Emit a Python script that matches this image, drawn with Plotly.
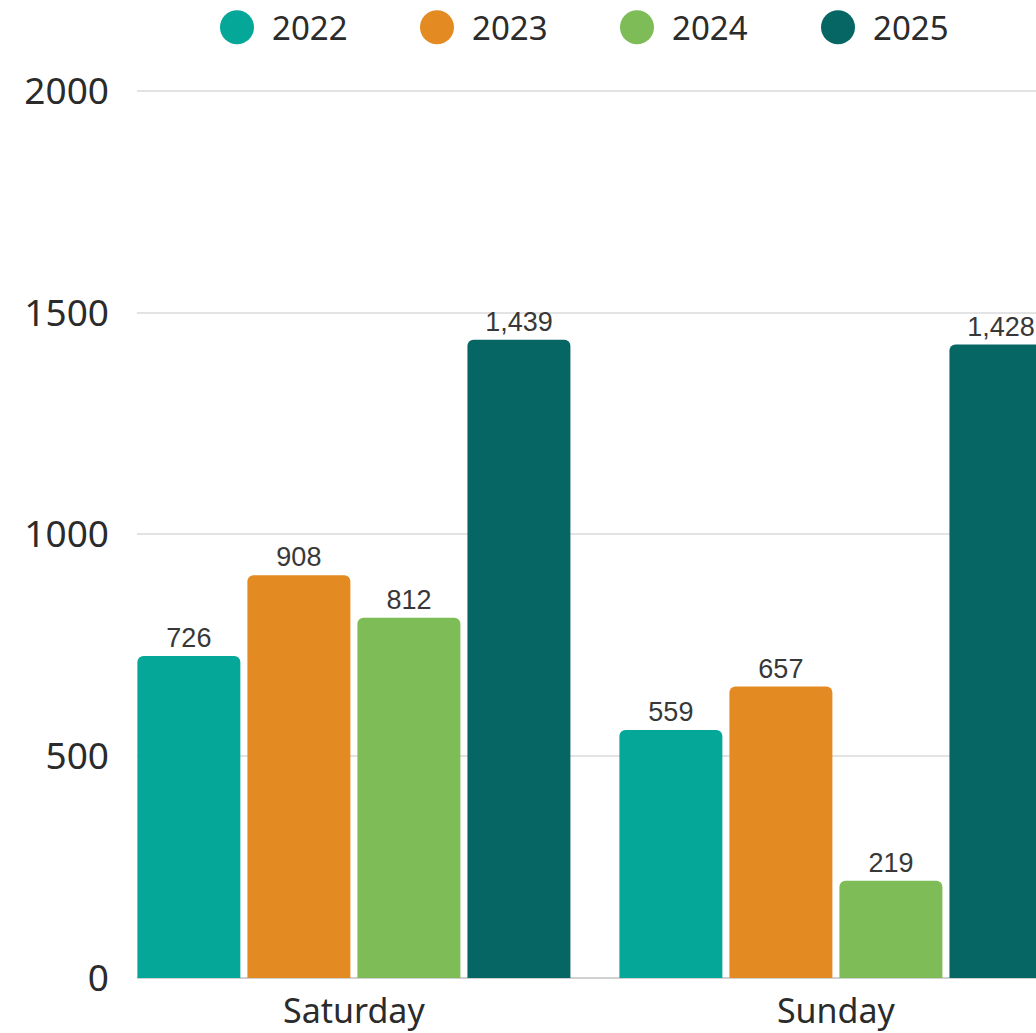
import plotly.graph_objects as go

days = ["Saturday", "Sunday"]
years = ["2022", "2023", "2024", "2025"]
values_2022 = [726, 559]
values_2023 = [908, 657]
values_2024 = [812, 219]
values_2025 = [1439, 1428]
series = [values_2022, values_2023, values_2024, values_2025]
colors = ["#05A898", "#E48A22", "#7DBC56", "#056664"]
y_ticks = [0, 500, 1000, 1500, 2000]

W, H = 1036, 1033
ML, MR, MT, MB = 137, 0, 86, 52
pw, ph = W - ML - MR, H - MT - MB

fig = go.Figure()
for yr, vals, col in zip(years, series, colors):
    fig.add_trace(go.Bar(
        x=days, y=vals, name=yr,
        marker=dict(color=col, cornerradius=6, line=dict(width=0)),
        text=[f"{v:,}" for v in vals], textposition="outside",
        textfont=dict(family="Liberation Sans, Arial", size=27, color="#383838"),
        cliponaxis=False, showlegend=False,
    ))

# custom legend with large circles
legend_px = [237, 437, 637, 838]
legend_y = 27
shapes = []
annotations = []
for yr, col, cx in zip(years, colors, legend_px):
    xp = (cx - ML) / pw
    yp = (H - MB - legend_y) / ph
    shapes.append(dict(type="circle", xref="paper", yref="paper",
                       xsizemode="pixel", ysizemode="pixel",
                       xanchor=xp, yanchor=yp, x0=-17, x1=17, y0=-17, y1=17,
                       fillcolor=col, line=dict(width=0)))
    annotations.append(dict(text=yr, xref="paper", yref="paper",
                            x=(cx + 33 - ML) / pw, y=yp, xanchor="left", yanchor="middle",
                            showarrow=False,
                            font=dict(family="Noto Sans", size=33, color="#2b2b2b")))

fig.update_layout(
    width=W, height=H,
    margin=dict(l=ML, r=MR, t=MT, b=MB),
    paper_bgcolor="white", plot_bgcolor="white",
    barmode="group", bargap=0.087, bargroupgap=0.064,
    shapes=shapes, annotations=annotations,
    showlegend=False,
    xaxis=dict(range=[-0.45, -0.45 + pw / 482], showgrid=False, zeroline=False,
               showline=False, ticks="", ticklabelstandoff=10,
               tickfont=dict(family="Noto Sans", size=34, color="#2b2b2b")),
    yaxis=dict(range=[0, 2011], tickvals=y_ticks, ticktext=[str(v) for v in y_ticks],
               showgrid=True, gridcolor="#e3e3e3", gridwidth=1.5,
               zeroline=True, zerolinecolor="#d0d0d0", zerolinewidth=1.5,
               showline=False, ticks="", ticklabelstandoff=27,
               tickfont=dict(family="Noto Sans", size=37, color="#2b2b2b")),
)

fig.write_html("out.html")
